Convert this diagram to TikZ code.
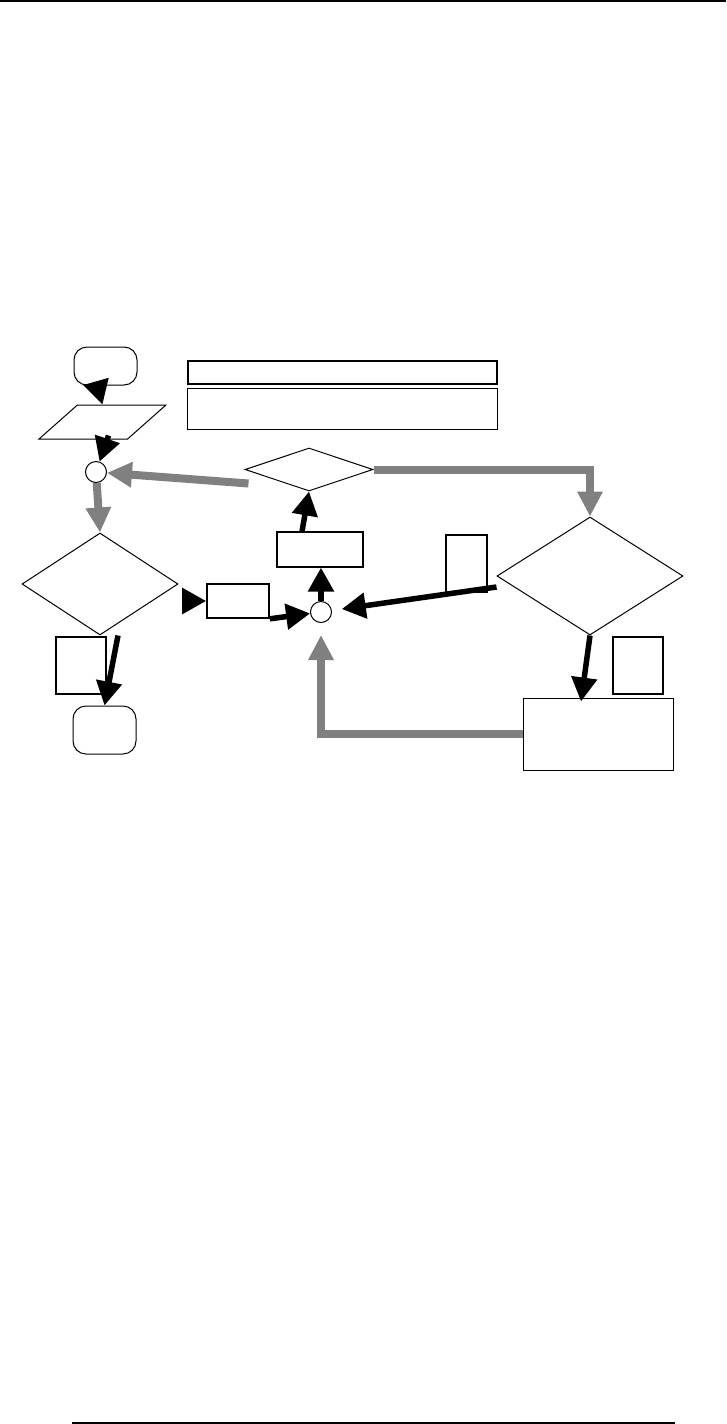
\documentclass[tikz,border=0pt]{standalone}
\usepackage{tikz}
\usetikzlibrary{arrows.meta, positioning, shapes.geometric, calc}
\definecolor{flowgray}{HTML}{808080}

\begin{document}
\begin{tikzpicture}[
  x=1pt, y=-1pt,
  term/.style={rectangle, draw, rounded corners=13pt, line width=1pt,
    minimum width=63pt, inner sep=0pt},
  io/.style={trapezium, trapezium left angle=52.6, trapezium right angle=127.4,
    trapezium stretches=true, draw, line width=1pt,
    minimum width=127pt, minimum height=34pt, inner sep=2pt},
  dec/.style={diamond, draw, line width=1pt, inner sep=0pt},
  proc/.style={rectangle, draw, line width=1.2pt, inner sep=0pt},
  conn/.style={circle, draw, line width=1pt, minimum size=21pt, inner sep=0pt},
  lbl/.style={rectangle, draw, line width=1.6pt, inner sep=0pt},
  arr/.style={-{Triangle[length=24pt, width=25pt]}, line width=5.5pt, black},
  garr/.style={-{Triangle[length=25pt, width=24pt]}, line width=8pt, flowgray},
]
  \useasboundingbox (0,0) rectangle (726,1424);
  \draw[line width=2pt] (0,1) -- (726,1);
  \draw[line width=2pt] (72,1423) -- (675,1423);

  \node[term, minimum height=38pt] (start) at (105.5,366) {};
  \node[io] (inp) at (102.5,422) {};
  \node[conn] (c1) at (96,472) {};
  \node[lbl, line width=1.5pt, minimum width=309pt, minimum height=23pt] (tb1) at (342.5,372.5) {};
  \node[lbl, line width=1.5pt, minimum width=310pt, minimum height=41pt, below=3pt of tb1] (tb2) {};
  \node[dec, minimum width=128pt, minimum height=43pt] (dec2) at (309,469.5) {};
  \node[proc, minimum width=86pt, minimum height=35pt] (proc1) at (320,549.5) {};
  \node[dec, minimum width=156pt, minimum height=102pt] (dec1) at (100,584) {};
  \node[proc, line width=1.6pt, minimum width=62pt, minimum height=34pt] (sbox) at (238,601) {};
  \node[conn] (c2) at (321,612) {};
  \node[lbl, minimum width=41pt, minimum height=57pt] (lblA) at (466.5,563.5) {};
  \node[dec, minimum width=186pt, minimum height=118pt] (dec3) at (590,576) {};
  \node[lbl, minimum width=50pt, minimum height=57pt] (lblB) at (638,665.5) {};
  \node[proc, line width=1pt, minimum width=150pt, minimum height=72pt] (proc2) at (598,734) {};
  \node[lbl, minimum width=50pt, minimum height=57pt] (lblC) at (81,665.5) {};
  \node[term, minimum height=48pt] (end) at (104.5,730) {};

  \draw[arr] ($(start.south)+(-9,-2)$) -- (inp.north);
  \draw[arr] ($(inp.south)+(6,-4)$) -- (c1);
  \draw[garr] ($(dec2.west)+(4,14)$) -- (c1);
  \draw[garr] (c1) -- (dec1.north);
  \draw[arr] ($(dec1.east)+(5,17)$) -- (sbox.west);
  \draw[arr] (sbox.south east) -- (c2);
  \draw[arr] (c2) -- (c2 |- proc1.south);
  \draw[arr] ($(proc1.north)+(-18,0)$) -- (dec2.south);
  \draw[garr] (dec2.east) -| (dec3.north);
  \draw[arr, shorten >=10pt] ($(dec3.west)+(0,11)$) -- (c2);
  \draw[arr] (dec3.south) -- ($(proc2.north)+(-17,4)$);
  \draw[garr, shorten >=12pt] (proc2.west) -| (c2);
  \draw[arr] ($(dec1.south)+(18,0)$) -- (end.north);
\end{tikzpicture}
\end{document}
